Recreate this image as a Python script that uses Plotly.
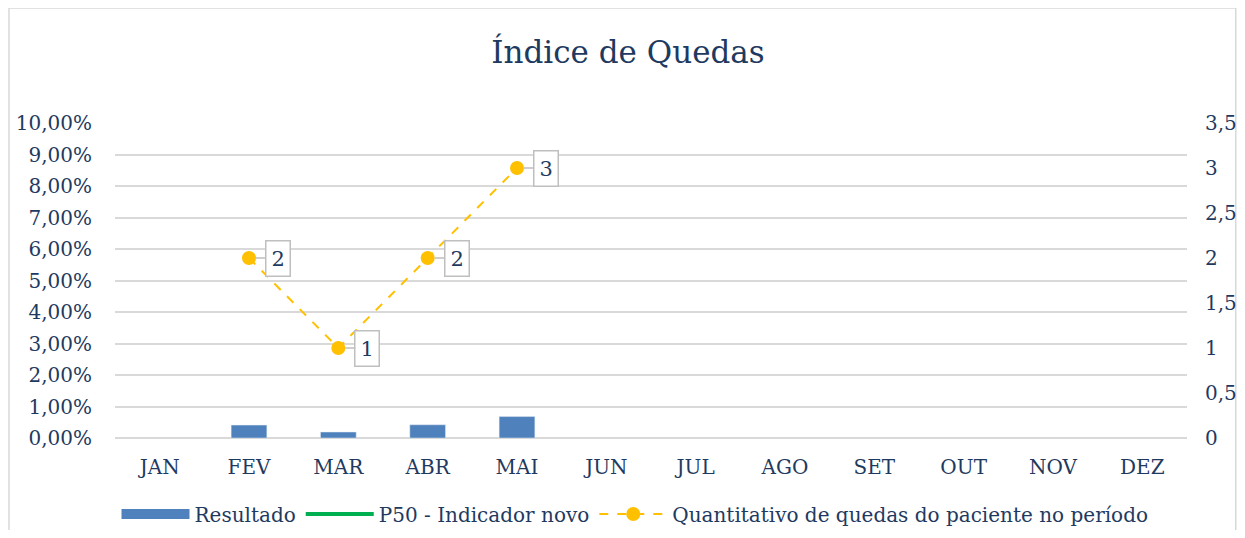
import plotly.graph_objects as go

meses = ["JAN", "FEV", "MAR", "ABR", "MAI", "JUN", "JUL", "AGO", "SET", "OUT", "NOV", "DEZ"]
resultado = [None, 0.0041, 0.0019, 0.0042, 0.0068, None, None, None, None, None, None, None]
p50 = [None] * 12
quedas = [None, 2, 1, 2, 3, None, None, None, None, None, None, None]

navy = "#1f3a60"
font_family = "DejaVu Serif, Cambria, serif"

W, H = 1229, 522

fig = go.Figure()
fig.add_trace(go.Bar(x=meses, y=resultado, name="Resultado", marker_color="#4F81BD",
                     width=0.4, showlegend=False, yaxis="y"))
fig.add_trace(go.Scatter(x=[None], y=[None], mode="lines", name="Resultado",
                         line=dict(color="#4F81BD", width=11)))
fig.add_trace(go.Scatter(x=meses, y=p50, mode="lines", name="P50 - Indicador novo",
                         line=dict(color="#00B050", width=4), yaxis="y"))
fig.add_trace(go.Scatter(x=meses, y=quedas, mode="lines+markers",
                         name="Quantitativo de quedas do paciente no período",
                         line=dict(color="#FFC000", width=2, dash="dash"),
                         marker=dict(color="#FFC000", size=14), yaxis="y2",
                         connectgaps=False))

for m, q in zip(meses, quedas):
    if q is None:
        continue
    fig.add_annotation(x=m, y=q, xref="x", yref="y2", text=str(q),
                       showarrow=True, ax=29, ay=0, arrowhead=0, arrowwidth=1.5,
                       arrowcolor="#bfbfbf", standoff=7,
                       font=dict(size=21, color=navy, family=font_family),
                       bgcolor="white", bordercolor="#bfbfbf", borderwidth=1.5, borderpad=5)

# chart border
fig.add_shape(type="rect", xref="paper", yref="paper", x0=-0.0989, x1=1.0455, y0=-0.33, y1=1.365,
              line=dict(color="#d9d9d9", width=1.5), fillcolor="rgba(0,0,0,0)", layer="below")

fig.update_layout(
    width=W, height=H,
    margin=dict(l=107, r=50, t=115, b=92, autoexpand=False),
    paper_bgcolor="white", plot_bgcolor="white",
    separators=",.",
    font=dict(family=font_family, color=navy, size=20),
    title=dict(text="Índice de Quedas", x=620 / W, xref="container", xanchor="center",
               y=1 - 44 / H, yref="container", yanchor="middle",
               font=dict(size=31, color=navy, family=font_family)),
    xaxis=dict(range=[-0.5, 11.5], showgrid=False, showline=False, zeroline=False, ticks="",
               ticklabelstandoff=15, tickfont=dict(size=20, color=navy), automargin=False),
    yaxis=dict(range=[0, 0.10], dtick=0.01, tickformat=".2%", showgrid=True,
               gridcolor="#d9d9d9", gridwidth=1.5, zeroline=True, zerolinecolor="#d9d9d9",
               zerolinewidth=1.5, showline=False, ticks="", ticklabelstandoff=22,
               tickfont=dict(size=20, color=navy), automargin=False),
    yaxis2=dict(range=[0, 3.5], dtick=0.5, overlaying="y", side="right", showgrid=False,
                zeroline=False, showline=False, ticks="", ticklabelstandoff=17,
                tickfont=dict(size=20, color=navy), automargin=False),
    legend=dict(orientation="h", xref="container", yref="container", x=627 / W, y=(H - 506) / H,
                xanchor="center", yanchor="middle", font=dict(size=20, color=navy),
                itemwidth=68, tracegroupgap=0),
    showlegend=True,
)

fig.write_html("out.html")
